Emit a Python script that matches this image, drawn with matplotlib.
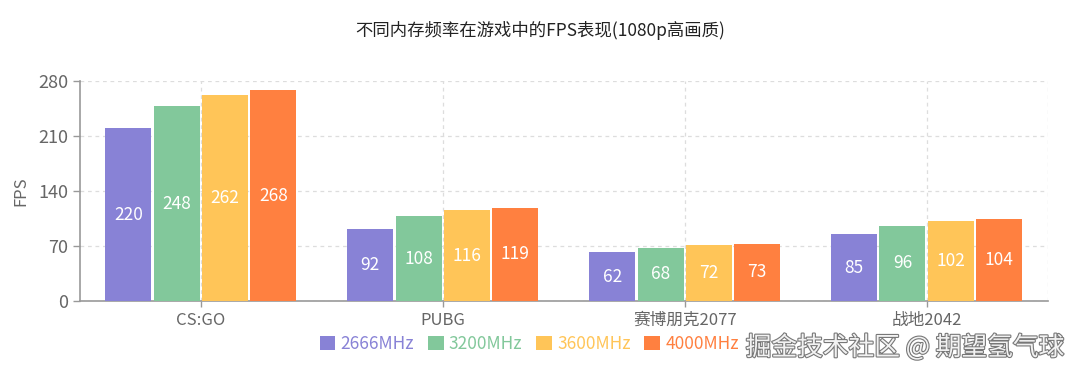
import numpy as np
import matplotlib
matplotlib.use("Agg")
import matplotlib.pyplot as plt
import matplotlib.patheffects as pe
from matplotlib.patches import Patch

plt.rcParams['font.family'] = ['Noto Sans CJK SC', 'DejaVu Sans']

# 数据
games = ["CS:GO", "PUBG", "赛博朋克2077", "战地2042"]
freqs = ["2666MHz", "3200MHz", "3600MHz", "4000MHz"]
fps_2666 = [220, 92, 62, 85]
fps_3200 = [248, 108, 68, 96]
fps_3600 = [262, 116, 72, 102]
fps_4000 = [268, 119, 73, 104]
series = [fps_2666, fps_3200, fps_3600, fps_4000]
colors = ["#8882D6", "#82C89B", "#FFC558", "#FF8040"]
yticks = [0, 70, 140, 210, 280]

fig = plt.figure(figsize=(10.8, 3.76), dpi=100)
ax = fig.add_axes([0.074, 0.199, 0.896, 0.586])

x = np.arange(len(games))
bw = 0.19; step = 0.2
for j, vals in enumerate(series):
    xs = x + (j - 1.5) * step
    ax.bar(xs, vals, width=bw, color=colors[j], zorder=3)
    for xi, v in zip(xs, vals):
        ax.text(xi, v / 2, str(v), ha="center", va="center", color="white",
                fontsize=12.5, zorder=4)

ax.set_xlim(-0.5, 3.5)
ax.set_ylim(0, 280)
ax.set_yticks(yticks)
ax.set_xticks(x)
ax.set_xticklabels(games)
ax.tick_params(axis="both", colors="#999999", length=4, width=1)
ax.tick_params(axis="y", length=5, labelsize=13)
ax.tick_params(axis="x", labelsize=12)
for lab in ax.get_xticklabels() + ax.get_yticklabels():
    lab.set_color("#666666")

# 网格
ax.grid(axis="y", linestyle=(0, (3, 3)), color="#dddddd", linewidth=0.9, zorder=0)
for xv in list(x) + [3.5]:
    ax.axvline(xv, linestyle=(0, (3, 3)), color="#dddddd", linewidth=0.9, zorder=0)

for s in ["top", "right"]:
    ax.spines[s].set_visible(False)
for s in ["left", "bottom"]:
    ax.spines[s].set_color("#999999")
    ax.spines[s].set_linewidth(1.2)

ax.set_ylabel("FPS", color="#666666", fontsize=12, labelpad=6)

fig.text(0.5, 0.92, "不同内存频率在游戏中的FPS表现(1080p高画质)", ha="center",
         va="center", fontsize=12.5, color="#222222")

handles = [Patch(facecolor=c) for c in colors]
leg = fig.legend(handles, freqs, loc="center", bbox_to_anchor=(0.49, 0.085),
                 ncol=4, frameon=False, fontsize=12.5, handlelength=0.9,
                 handleheight=0.9, handletextpad=0.3, columnspacing=0.8)
for t, c in zip(leg.get_texts(), colors):
    t.set_color(c)

fig.text(0.986, 0.075, "掘金技术社区 @ 期望氢气球", ha="right", va="center",
         fontsize=18.5, color="#f2f2f2",
         path_effects=[pe.withStroke(linewidth=1.6, foreground="#777777")])

fig.savefig("out.png", dpi=100)
